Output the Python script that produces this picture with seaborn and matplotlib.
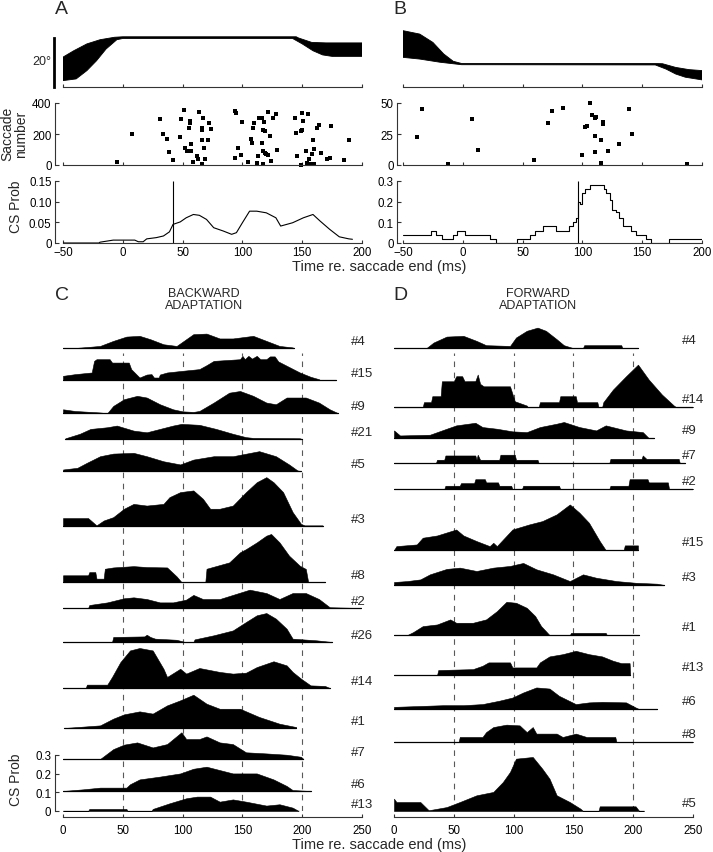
import numpy as np
import matplotlib
matplotlib.use("Agg")
import matplotlib.pyplot as plt
import seaborn as sns
sns.set_style("ticks")
plt.rcParams['font.family'] = ['Liberation Sans', 'DejaVu Sans']

# ---------------- data ----------------
# eye position bundles (deg), upper / lower envelope
eye_a_up_t = [-50, -41, -30, -19, -7, 0, 145, 147, 158, 170, 200]
eye_a_up_v = [12.2, 14.8, 17.6, 19.3, 20.3, 20.5, 20.5, 20.0, 18.2, 18.0, 18.0]
eye_a_lo_t = [-50, -39, -30, -22, -14, -5, 0, 142, 150, 159, 167, 175, 200]
eye_a_lo_v = [2.6, 3.3, 6.7, 10.7, 15.5, 19.3, 19.8, 19.8, 17.6, 14.8, 13.1, 12.5, 12.5]
eye_b_up_t = [-50, -36, -25, -16, -8, -1, 160, 167, 178, 189, 200]
eye_b_up_v = [23.0, 21.6, 18.2, 13.5, 10.5, 9.6, 9.6, 9.5, 8.0, 7.1, 6.7]
eye_b_lo_t = [-50, -36, -19, -1, 161, 170, 178, 186, 200]
eye_b_lo_v = [12.1, 11.4, 10.1, 9.1, 9.0, 7.3, 5.3, 4.0, 2.9]

# complex spike rasters (time ms, saccade number)
ras_a_t = [-5, 7.5, 31, 34, 37, 39, 42, 48, 49, 51, 52, 54, 55, 56, 56, 57, 57, 59, 62, 63,
           64, 66, 66, 66, 66, 67, 68, 69, 71, 72, 74, 94, 95, 94, 96, 99, 100, 105, 107, 108,
           109, 110, 112, 113, 114, 116, 116, 117, 117, 117, 118, 119, 119, 120, 121, 121, 123,
           124, 126, 128, 129, 144, 145, 146, 149, 149, 150, 150, 151, 153, 154, 155, 156, 157,
           158, 159, 160, 160, 162, 164, 166, 171, 173, 174, 185, 189]
ras_a_n = [21, 200, 299, 198, 170, 86, 32, 183, 299, 353, 112, 90, 241, 284, 269, 90, 133, 19,
           58, 37, 342, 241, 159, 224, 9, 305, 112, 41, 161, 269, 230, 348, 338, 47, 112, 62,
           280, 19, 166, 144, 241, 273, 15, 58, 305, 305, 144, 90, 9, 226, 277, 80, 219, 69,
           344, 65, 187, 26, 301, 327, 95, 305, 209, 58, 219, 2, 338, 224, 284, 90, 15, 327,
           37, 9, 69, 161, 101, 9, 241, 258, 80, 37, 47, 252, 32, 161]
ras_b_t = [-38.6, -34, -12.5, 7.8, 12.8, 59.4, 71.4, 74.7, 83.6, 99.4, 102.2, 103.9, 106.4,
           107.8, 110.6, 111.4, 110.6, 110.6, 115.6, 115.6, 117.5, 117.5, 121.4, 130.3, 139.2,
           141.4, 187.5]
ras_b_n = [22.6, 45.4, 0.8, 37.4, 11.8, 4, 34.1, 43.5, 46.2, 8.1, 30.6, 31.5, 50, 40, 38.2,
           39, 23.1, 10.2, 20.4, 1.9, 34.7, 33.3, 11.3, 16.9, 45.2, 25, 0.8]

# CS probability, single cells
cs_a_t = [-50, -20, -19, -8, 10, 13, 17, 20, 28, 34, 39, 42, 48, 53, 59, 64, 70, 76, 84, 91,
          95, 100, 106, 112, 120, 128, 132, 142, 151, 159, 165, 173, 181, 189, 192]
cs_a_p = [0, 0, .002, .007, .007, .003, .003, .01, .013, .017, .027, .045, .051, .061, .069,
          .067, .057, .037, .029, .021, .025, .049, .077, .077, .073, .061, .041, .049, .061,
          .069, .053, .033, .015, .010, .009]
cs_b_t = [-50, -27, -22, -17, -8, -5, 2, 23, 28, 45, 56, 60, 67, 78, 89, 92, 95, 96, 98, 100,
          102, 106, 118, 120, 123, 125, 128, 131, 134, 141, 145, 153, 157, 172, 200]
cs_b_p = [.04, .06, .04, .02, .04, .06, .04, .02, 0, .02, .04, .06, .08, .06, .08, .10, .12,
          .20, .19, .24, .26, .28, .26, .24, .21, .16, .15, .12, .08, .06, .04, .02, 0, .02, .02]
saccade_end_a = 42
saccade_end_b = 96

# population panels: (time ms, CS prob) per cell
c_labels = ['#4', '#15', '#9', '#21', '#5', '#3', '#8', '#2', '#26', '#14', '#1', '#7', '#6', '#13']
C4 = [(0, 0), (12, .002), (20, .006), (31, .012), (42, .039), (53, .062), (64, .066), (73, .048),
      (84, .021), (95, .012), (103, .048), (109, .075), (120, .078), (131, .052), (142, .052),
      (159, .066), (170, .039), (181, .012), (192, .004), (193, 0)]
C15 = [(0, .023), (10, .032), (24, .041), (26, .103), (28, .112), (39, .112), (41, .094),
       (55, .094), (57, .059), (64, .014), (70, .03), (74, .032), (76, .014), (80, .014),
       (81, .03), (87, .041), (100, .05), (114, .059), (120, .08), (126, .103), (148, .112),
       (150, .13), (152, .112), (155, .13), (158, .115), (162, .13), (165, .112), (170, .112),
       (173, .127), (177, .127), (180, .1), (187, .077), (198, .041), (207, .018), (214, .005),
       (215, 0), (228, 0)]
C9 = [(0, .021), (10, .012), (31, .004), (37, 0), (42, .039), (51, .075), (62, .093), (70, .084),
      (81, .048), (92, .021), (100, .01), (109, .007), (114, .012), (126, .057), (139, .11),
      (148, .119), (159, .093), (170, .057), (178, .048), (187, .084), (203, .084), (214, .057),
      (223, .021), (230, 0)]
C21 = [(2, .005), (14, .029), (23, .055), (37, .064), (45, .073), (59, .046), (70, .037),
       (81, .055), (92, .073), (99, .082), (114, .077), (128, .055), (142, .029), (153, .011),
       (159, .007), (198, .005), (200, 0)]
C5 = [(0, .009), (12, .018), (20, .045), (31, .08), (42, .094), (59, .098), (70, .08), (84, .053),
      (98, .036), (109, .062), (126, .08), (142, .08), (164, .107), (178, .08), (189, .036),
      (196, .004), (199, 0)]
C3 = [(0, .043), (21, .043), (28, .004), (34, .03), (42, .048), (51, .093), (59, .119), (70, .11),
      (84, .119), (89, .155), (98, .182), (109, .191), (117, .146), (123, .093), (131, .093),
      (142, .11), (153, .182), (162, .235), (170, .262), (176, .235), (184, .182), (192, .075),
      (199, .012), (202, .004), (217, .004)]
C8 = [(0, .036), (21, .036), (22, .053), (27, .053), (28, .018), (34, .018), (35, .071),
      (42, .078), (59, .085), (70, .08), (87, .078), (90, .06), (95, .03), (99, 0), (119, 0),
      (120, .071), (139, .105), (148, .159), (153, .176), (162, .212), (170, .248), (174, .257),
      (181, .212), (189, .141), (198, .087), (203, .07), (205, 0), (219, 0)]
C2 = [(0, 0), (21, 0), (22, .016), (37, .03), (51, .052), (59, .057), (70, .048), (81, .03),
      (92, .03), (103, .045), (109, .07), (117, .048), (131, .048), (142, .07), (156, .098),
      (170, .08), (181, .048), (192, .08), (203, .08), (214, .048), (223, .004), (249, 0)]
C26 = [(0, 0), (41, 0), (42, .027), (68, .03), (70, .039), (73, .027), (77, .018), (95, .012),
       (102, 0), (109, 0), (110, .014), (126, .036), (142, .062), (153, .107), (162, .143),
       (170, .155), (178, .125), (187, .071), (192, .018), (212, .009), (225, 0)]
C14 = [(0, 0), (19, 0), (20, .018), (37, .018), (41, .059), (48, .139), (56, .201), (64, .214),
       (75, .201), (84, .103), (87, .059), (98, .103), (103, .077), (114, .107), (131, .086),
       (142, .077), (153, .082), (162, .112), (176, .143), (187, .121), (192, .086), (199, .05),
       (207, .014), (219, .011), (223, 0)]
C1 = [(1, 0), (31, .014), (42, .05), (51, .073), (64, .089), (75, .077), (87, .121), (98, .148),
      (109, .178), (120, .13), (131, .103), (148, .103), (164, .059), (181, .023), (195, .005)]
C7 = [(0, 0), (31, 0), (42, .053), (51, .077), (62, .089), (75, .062), (87, .08), (99, .143),
      (103, .107), (114, .107), (120, .121), (131, .089), (142, .08), (153, .036), (170, .03),
      (187, .023), (199, .012), (201, 0)]
C6 = [(0, 0), (17, .009), (31, .018), (53, .018), (56, .036), (64, .062), (81, .077), (98, .094),
      (109, .119), (120, .13), (131, .112), (142, .094), (162, .094), (176, .062), (187, .027),
      (192, .005), (207, 0)]
C13 = [(0, 0), (21, 0), (22, .011), (53, .011), (54, 0), (74, 0), (75, .011), (89, .041),
       (103, .068), (112, .077), (123, .077), (131, .05), (142, .062), (153, .05), (170, .029),
       (181, .036), (192, .018), (197, 0)]

d_labels = ['#4', '#14', '#9', '#7', '#2', '#15', '#3', '#1', '#13', '#6', '#8', '#5']
D4 = [(0, 0), (27, 0), (33, .03), (44, .062), (58, .066), (69, .039), (77, .016), (97, .012),
      (102, .057), (111, .093), (120, .11), (127, .093), (136, .048), (142, .016), (150, 0),
      (158, 0), (159, .016), (190, .016), (191, 0), (204, 0)]
D14 = [(0, 0), (24, 0), (25, .027), (31, .027), (32, .059), (39, .059), (40, .139), (50, .139),
       (52, .166), (57, .166), (59, .139), (68, .14), (70, .175), (72, .125), (75, .112),
       (97, .112), (101, .032), (111, .009), (112, 0), (121, 0), (122, .027), (138, .027),
       (139, .059), (152, .059), (153, .027), (170, .027), (171, 0), (174, 0), (175, .027),
       (183, .094), (194, .166), (204, .228), (213, .148), (224, .068), (234, .009), (236, 0),
       (250, 0)]
D9 = [(0, .041), (5, .014), (30, .018), (44, .05), (52, .068), (68, .082), (74, .059), (86, .05),
      (99, .036), (111, .032), (122, .059), (136, .077), (142, .086), (155, .059), (169, .041),
      (177, .068), (194, .041), (208, .032), (213, 0), (217, 0)]
D7 = [(0, 0), (35, 0), (36, .018), (42, .018), (43, .041), (68, .041), (69, .018), (70, .045),
      (72, .018), (88, .018), (89, .045), (101, .045), (102, .018), (120, .018), (121, 0),
      (180, 0), (181, .023), (207, .023), (208, .041), (211, .023), (238, .023), (239, 0),
      (243, 0)]
D2 = [(0, 0), (42, 0), (43, .018), (55, .018), (56, .032), (67, .032), (68, .053), (76, .053),
      (77, .036), (87, .036), (88, .018), (98, .018), (99, 0), (107, 0), (108, .018), (138, .018),
      (139, 0), (180, 0), (181, .018), (196, .018), (197, .053), (212, .053), (213, .036),
      (229, .036), (230, 0), (250, 0)]
D15 = [(0, 0), (2, .021), (19, .03), (24, .066), (36, .078), (52, .11), (58, .078), (69, .048),
       (80, .021), (83, .039), (86, .021), (99, .11), (113, .137), (124, .155), (136, .191),
       (147, .244), (155, .2), (163, .146), (172, .048), (177, 0), (192, 0), (193, .025),
       (204, .025)]
D3 = [(0, .016), (11, .021), (22, .03), (30, .057), (44, .086), (55, .093), (69, .075),
      (83, .093), (97, .102), (108, .118), (119, .084), (133, .057), (147, .021), (158, .057),
      (169, .039), (186, .021), (202, .012), (220, .007), (226, 0)]
D1 = [(0, 0), (11, 0), (16, .016), (24, .048), (36, .057), (47, .084), (52, .066), (66, .066),
      (77, .084), (86, .128), (94, .178), (102, .173), (111, .146), (118, .102), (123, .048),
      (127, .021), (130, 0), (147, 0), (148, .012), (177, .012), (178, 0), (205, 0)]
D13 = [(0, 0), (36, 0), (37, .027), (66, .032), (74, .05), (79, .068), (97, .068), (99, .041),
       (119, .041), (122, .068), (130, .1), (141, .112), (152, .13), (163, .112), (174, .1),
       (183, .077), (190, .064), (197, .064), (197.5, 0)]
D6 = [(0, .012), (41, .021), (58, .021), (74, .027), (88, .045), (99, .062), (108, .089),
      (119, .116), (130, .11), (138, .071), (152, .027), (163, .036), (174, .039), (194, .036),
      (202, .009), (205, 0), (220, 0)]
D8 = [(0, 0), (54, 0), (55, .027), (74, .027), (77, .053), (83, .08), (94, .093), (105, .089),
      (111, .053), (116, .08), (119, .045), (136, .045), (141, .027), (152, .045), (161, .027),
      (185, .027), (186, 0), (250, 0)]
D5 = [(0, .066), (2, .048), (22, .048), (29, .004), (44, .021), (55, .048), (69, .084),
      (83, .102), (91, .155), (97, .209), (102, .28), (116, .289), (124, .226), (130, .173),
      (136, .084), (147, .048), (156, .012), (158, 0), (171, 0), (172, .025), (202, .025),
      (205, 0), (209, 0)]

c_traces = [C4, C15, C9, C21, C5, C3, C8, C2, C26, C14, C1, C7, C6, C13]
d_traces = [D4, D14, D9, D7, D2, D15, D3, D1, D13, D6, D8, D5]

# ---------------- layout (pixels of the 713x853 canvas) ----------------
W, H = 713, 853
PX = 72 / 100  # points per pixel
c_offsets = [2.476, 2.305, 2.128, 1.989, 1.818, 1.524, 1.225, 1.086, 0.904, 0.658, 0.444, 0.278, 0.107, 0.0]
d_offsets = [2.476, 2.160, 1.995, 1.861, 1.722, 1.396, 1.209, 0.941, 0.727, 0.545, 0.369, 0.0]

fig = plt.figure(figsize=(W / 100, H / 100), dpi=100)


def px_axes(x0, y0, x1, y1):
    return fig.add_axes([x0 / W, 1 - y1 / H, (x1 - x0) / W, (y1 - y0) / H])


def style(ax, left_out=None, bottom_out=0, labelx=True):
    ax.set_facecolor('none')
    for s in ['top', 'right']:
        ax.spines[s].set_visible(False)
    for s in ['left', 'bottom']:
        ax.spines[s].set_color('0.2')
        ax.spines[s].set_linewidth(0.8)
    if left_out is None:
        ax.spines['left'].set_visible(False)
        ax.set_yticks([])
    else:
        ax.spines['left'].set_position(('outward', left_out * PX))
    ax.spines['bottom'].set_position(('outward', bottom_out * PX))
    ax.tick_params(direction='in', length=3.5 * PX, width=0.8, color='0.2',
                   labelsize=8.3, pad=2.5, labelcolor='k')
    if not labelx:
        ax.tick_params(axis='x', labelbottom=False)
    ax.set_xlabel('')
    ax.set_ylabel('')


def draw_eye(ax, up_t, up_v, lo_t, lo_v):
    xs = np.r_[up_t, lo_t[::-1]]
    ys = np.r_[up_v, lo_v[::-1]]
    ax.fill(xs, ys, color='k', lw=0.6)
    ax.set_xlim(-50, 200)
    ax.set_ylim(0, 60 / 2.45)
    ax.set_xticks(range(-50, 201, 50))


# ---- A / B top rows ----
ax = px_axes(63, 28, 362, 88)
draw_eye(ax, eye_a_up_t, eye_a_up_v, eye_a_lo_t, eye_a_lo_v)
style(ax, left_out=9, labelx=False)
ax.spines['left'].set_bounds(0, 20)
ax.spines['left'].set_linewidth(2)
ax.spines['left'].set_color('k')
ax.set_yticks([])
fig.text(51 / W, 1 - 62 / H, '20°', fontsize=9, ha='right', va='center')

ax = px_axes(403, 28, 702, 88)
draw_eye(ax, eye_b_up_t, eye_b_up_v, eye_b_lo_t, eye_b_lo_v)
style(ax, left_out=None, labelx=False)

for (x0, x1), rt, rn, ymax, yt, lo in [((63, 362), ras_a_t, ras_a_n, 400, [0, 200, 400], 8),
                                      ((403, 702), ras_b_t, ras_b_n, 50, [0, 25, 50], 6)]:
    ax = px_axes(x0, 104, x1, 166)
    sns.scatterplot(x=rt, y=rn, marker='s', s=6, color='k', linewidth=0, ax=ax, clip_on=False)
    ax.set_xlim(-50, 200)
    ax.set_ylim(0, ymax)
    ax.set_xticks(range(-50, 201, 50))
    ax.set_yticks(yt)
    style(ax, left_out=lo, labelx=False)

ax = px_axes(63, 182, 362, 244)
sns.lineplot(x=cs_a_t, y=cs_a_p, color='k', lw=0.8, ax=ax)
ax.vlines(saccade_end_a, 0, 0.15, color='k', lw=0.8)
ax.set_xlim(-50, 200)
ax.set_ylim(0, 0.15)
ax.set_xticks(range(-50, 201, 50))
ax.set_yticks([0, 0.05, 0.10, 0.15])
ax.set_yticklabels(['0', '0.05', '0.10', '0.15'])
style(ax, left_out=8)

ax = px_axes(403, 182, 702, 244)
sns.lineplot(x=cs_b_t, y=cs_b_p, color='k', lw=0.8, drawstyle='steps-post', ax=ax)
ax.vlines(saccade_end_b, 0, 0.3, color='k', lw=0.8)
ax.set_xlim(-50, 200)
ax.set_ylim(0, 0.3)
ax.set_xticks(range(-50, 201, 50))
ax.set_yticks([0, 0.1, 0.2, 0.3])
ax.set_yticklabels(['0', '0.1', '0.2', '0.3'])
style(ax, left_out=6)


# ---- C / D stacked population ----
def draw_stack(ax, traces, labels, offsets, dy):
    ax.vlines([50, 100, 150, 200], 0, 2.45, colors='0.35', lw=0.8,
              linestyles=(0, (5, 5)), zorder=0)
    for pts, lab, off in zip(traces, labels, offsets):
        t, p = np.array(pts, dtype=float).T
        ax.fill_between(t, off, off + p, color='k', lw=0.4, zorder=2)
        ax.plot([t[0], t[-1]], [off, off], color='k', lw=0.9, zorder=2)
        ax.text(241, off + dy, lab, fontsize=9.5, ha='left', va='center')
    ax.set_xlim(0, 250)
    ax.set_ylim(0, 2.6)
    ax.set_xticks(range(0, 251, 50))


ax = px_axes(63, 326, 362, 812)
draw_stack(ax, c_traces, c_labels, c_offsets, 0.04)
ax.set_yticks([0, 0.1, 0.2, 0.3])
ax.set_yticklabels(['0', '0.1', '0.2', '0.3'])
style(ax, left_out=8.5, bottom_out=6)
ax.spines['left'].set_bounds(0, 0.3)
ax.spines['bottom'].set_bounds(0, 250)
ax.tick_params(axis='x', pad=5)

ax = px_axes(394, 326, 693, 812)
draw_stack(ax, d_traces, d_labels, d_offsets, 0.045)
style(ax, left_out=None, bottom_out=6)
ax.tick_params(axis='x', pad=5)

# ---- figure text ----
def ftext(x, y, s, **kw):
    fig.text(x / W, 1 - y / H, s, **kw)


ftext(55, 10, 'A', fontsize=14, va='center')
ftext(393, 10, 'B', fontsize=14, va='center')
ftext(55, 296, 'C', fontsize=14, va='center')
ftext(393, 296, 'D', fontsize=14, va='center')
ftext(204, 300, 'BACKWARD\nADAPTATION', fontsize=9, ha='center', va='center', linespacing=1.05)
ftext(538, 300, 'FORWARD\nADAPTATION', fontsize=9, ha='center', va='center', linespacing=1.05)
ftext(379, 267, 'Time re. saccade end (ms)', fontsize=10.5, ha='center', va='center')
ftext(379, 845, 'Time re. saccade end (ms)', fontsize=10.5, ha='center', va='center')
ftext(14, 134, 'Saccade\nnumber', fontsize=10, rotation=90, ha='center', va='center',
      linespacing=0.95)
ftext(16, 207, 'CS Prob', fontsize=10, rotation=90, ha='center', va='center')
ftext(16, 780, 'CS Prob', fontsize=10, rotation=90, ha='center', va='center')

fig.savefig('out.png', dpi=100)
